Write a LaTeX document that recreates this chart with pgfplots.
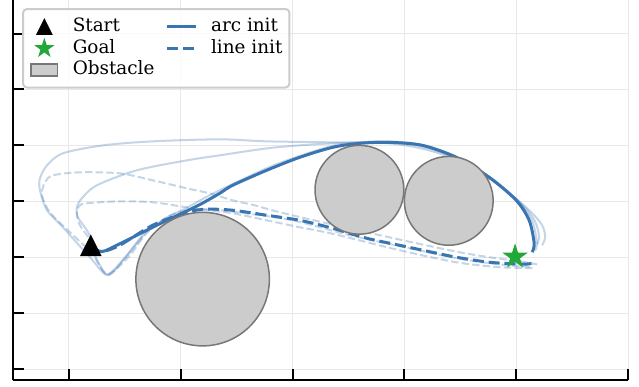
\documentclass[border=0pt]{standalone}
\usepackage{fontspec}
\setmainfont{DejaVu Serif}
\usepackage{pgfplots}
\pgfplotsset{compat=1.18}
\definecolor{darkblue}{RGB}{58,117,178}
\definecolor{goalgreen}{RGB}{34,168,56}
\definecolor{obsfill}{RGB}{204,204,204}
\definecolor{obsedge}{RGB}{119,119,119}
\definecolor{gridc}{RGB}{232,232,232}
\definecolor{legedge}{RGB}{204,204,204}

\pgfdeclareplotmark{mtri}{%
 \pgfpathmoveto{\pgfpoint{0pt}{\pgfplotmarksize}}%
 \pgfpathlineto{\pgfpoint{-\pgfplotmarksize}{-\pgfplotmarksize}}%
 \pgfpathlineto{\pgfpoint{\pgfplotmarksize}{-\pgfplotmarksize}}%
 \pgfpathclose\pgfusepathqfill}
\pgfdeclareplotmark{fstar}{%
 \pgfpathmoveto{\pgfpointpolar{90}{\pgfplotmarksize}}%
 \pgfpathlineto{\pgfpointpolar{126}{0.382\pgfplotmarksize}}%
 \pgfpathlineto{\pgfpointpolar{162}{\pgfplotmarksize}}%
 \pgfpathlineto{\pgfpointpolar{198}{0.382\pgfplotmarksize}}%
 \pgfpathlineto{\pgfpointpolar{234}{\pgfplotmarksize}}%
 \pgfpathlineto{\pgfpointpolar{270}{0.382\pgfplotmarksize}}%
 \pgfpathlineto{\pgfpointpolar{306}{\pgfplotmarksize}}%
 \pgfpathlineto{\pgfpointpolar{342}{0.382\pgfplotmarksize}}%
 \pgfpathlineto{\pgfpointpolar{18}{\pgfplotmarksize}}%
 \pgfpathlineto{\pgfpointpolar{54}{0.382\pgfplotmarksize}}%
 \pgfpathclose\pgfusepathqfillstroke}

\newcommand{\legbox}{\pgfpathrectangle{\pgfpoint{0pt}{-4.35pt}}{\pgfpoint{14.5pt}{8.7pt}}\pgfusepath{discard}}

\pgfplotsset{
 lightsolid/.style={darkblue, opacity=0.3, line width=1pt, smooth, no markers, forget plot},
 lightdash/.style={darkblue, opacity=0.3, line width=1pt, smooth, no markers, forget plot, dash pattern=on 3.7pt off 1.6pt},
 markimg/.style={legend image code/.code={\legbox
   \draw[sharp corners,fill opacity=1,draw opacity=1,##1] plot coordinates {(7.1pt,0pt)};}},
 lineimg/.style={legend image code/.code={\legbox
   \draw[sharp corners,draw opacity=1,##1] (0pt,0pt) -- (14.5pt,0pt);}},
}

\begin{document}
\begin{tikzpicture}
\begin{axis}[
 name=ax,
 scale only axis,
 width=307.5pt, height=190.1pt,
 xmin=-0.5, xmax=5.0, ymin=-0.1, ymax=3.3,
 axis x line*=bottom, axis y line*=left,
 axis line style={-, black, line width=1.2pt},
 xtick={0,1,2,3,4,5}, ytick={0,0.5,1,1.5,2,2.5,3},
 xticklabels={}, yticklabels={},
 tick align=inside,
 major tick length=5.5pt,
 tick style={black, line width=1pt},
 grid=major,
 major grid style={gridc, line width=0.5pt},
 clip=false,
 legend columns=2,
 legend cell align=left,
 legend style={at={(rel axis cs:0,1)}, anchor=north west, xshift=4.5pt, yshift=-4pt,
   draw=legedge, line width=1pt, rounded corners=2pt,
   fill=white, fill opacity=0.8, text opacity=1,
   inner xsep=3.5pt, inner ysep=4.4pt, row sep=2.1pt,
   nodes={inner sep=0pt, text height=6.8pt, text depth=1.9pt},
   font=\fontsize{9.2}{10}\selectfont,
   /tikz/every odd column/.style={column sep=6.8pt},
   /tikz/every even column/.style={column sep=5.5pt}},
]

% obstacles: x y radius
\addplot[scatter, only marks, mark=*, forget plot,
 scatter/use mapped color={draw=obsedge, fill=obsfill},
 mark options={line width=0.75pt},
 visualization depends on={55.909*\thisrow{r} \as \rad},
 scatter/@pre marker code/.append style={/tikz/mark size=\rad pt}]
table {
x y r
1.196 0.804 0.597
2.598 1.603 0.397
3.397 1.504 0.397
};

% light iterates (solid)
\addplot[lightsolid] coordinates {
(0.661,1.188) (0.5,0.991) (0.348,0.839) (0.1875,1.0) (-0.054,1.268) (-0.196,1.420)
(-0.259,1.598) (-0.259,1.705) (-0.196,1.821) (-0.054,1.929) (0.304,2.0) (0.75,2.036)
(1.348,2.054) (1.768,2.036) (2.357,2.027) (2.866,2.018) (3.223,1.955) (3.536,1.839)
(3.848,1.643) (4.116,1.420) (4.232,1.286) (4.259,1.179) (4.232,1.107)};
\addplot[lightsolid] coordinates {
(0.232,1.107) (0.161,1.241) (0.080,1.357) (0.071,1.446) (0.116,1.527) (0.25,1.643)
(0.607,1.777) (1.054,1.866) (1.348,1.911) (1.768,1.973) (2.063,2.0) (2.357,2.018)
(2.866,2.030) (3.179,1.985) (3.491,1.872) (3.804,1.685) (4.054,1.470) (4.170,1.318)
(4.205,1.179) (4.188,1.116)};
\addplot[lightsolid] coordinates {
(0.2,1.08) (0.277,0.929) (0.348,0.845) (0.5,0.995) (0.661,1.195) (0.85,1.34)
(1.05,1.44) (1.3,1.575) (1.768,1.795) (2.063,1.905) (2.357,1.995) (2.6,2.028)
(2.866,2.035) (3.161,2.005) (3.464,1.9) (3.76,1.72) (4.0,1.515) (4.14,1.33)
(4.185,1.13) (4.17,1.06)};

% light iterates (dashed)
\addplot[lightdash] coordinates {
(0.232,1.018) (0.009,1.223) (-0.170,1.402) (-0.241,1.554) (-0.214,1.670) (-0.143,1.732)
(0.098,1.759) (0.455,1.75) (0.75,1.6875) (1.054,1.616) (1.259,1.571) (1.464,1.509)
(1.661,1.464) (1.884,1.402) (2.357,1.292) (2.955,1.158) (3.464,1.05) (3.759,1.0)
(4.054,0.96) (4.188,0.935)};
\addplot[lightdash] coordinates {
(0.232,1.107) (0.098,1.286) (0.071,1.402) (0.098,1.464) (0.161,1.482) (0.455,1.5)
(0.75,1.491) (1.054,1.446) (1.232,1.420) (1.464,1.393) (1.768,1.330) (2.063,1.268)
(2.357,1.210) (2.955,1.063) (3.464,0.955) (3.848,0.911) (4.161,0.902)};
\addplot[lightdash] coordinates {
(0.2,1.08) (0.27,0.93) (0.36,0.85) (0.54,1.01) (0.70,1.22) (0.9,1.37) (1.1,1.425)
(1.3,1.425) (1.6,1.39) (2.0,1.33) (2.5,1.2) (3.0,1.09) (3.5,0.985) (3.9,0.93) (4.15,0.915)};

% final trajectories
\addplot[darkblue, line width=1.5pt, smooth, no markers, forget plot] coordinates {
(0.2,1.09) (0.295,1.05) (0.455,1.12) (0.75,1.268) (0.991,1.384) (1.170,1.47)
(1.348,1.571) (1.464,1.643) (1.768,1.777) (2.063,1.893) (2.357,1.982) (2.598,2.018)
(2.866,2.027) (3.161,2.0) (3.464,1.893) (3.759,1.714) (4.0,1.509) (4.116,1.330)
(4.161,1.125) (4.143,1.045)};
\addplot[darkblue, line width=1.5pt, smooth, no markers, forget plot, dash pattern=on 5.55pt off 2.4pt] coordinates {
(0.2,1.09) (0.295,1.05) (0.455,1.107) (0.75,1.286) (1.054,1.402) (1.232,1.429)
(1.464,1.420) (1.768,1.375) (2.063,1.330) (2.357,1.259) (2.661,1.170) (2.955,1.107)
(3.161,1.063) (3.464,1.0) (3.759,0.955) (4.054,0.9375) (4.143,0.946)};

% start and goal
\addplot[only marks, mark=mtri, mark size=5.4pt, black, forget plot] coordinates {(0.196,1.107)};
\addplot[only marks, mark=fstar, mark size=5.9pt, goalgreen, mark options={line width=0.5pt}, forget plot] coordinates {(3.99,1.004)};

% legend (row-wise for two columns)
\addlegendimage{markimg, only marks, mark=mtri, mark size=4.2pt, black}
\addlegendentry{Start}
\addlegendimage{lineimg, darkblue, line width=1.5pt}
\addlegendentry{arc init}
\addlegendimage{markimg, only marks, mark=fstar, mark size=4.5pt, goalgreen, mark options={line width=0.5pt}}
\addlegendentry{Goal}
\addlegendimage{lineimg, darkblue, line width=1.5pt, dash pattern=on 5.55pt off 2.4pt}
\addlegendentry{line init}
\addlegendimage{legend image code/.code={\legbox
  \draw[draw=obsedge, fill=obsfill, fill opacity=1, draw opacity=1, line width=0.75pt, sharp corners] (0.3pt,-3.1pt) rectangle (13.6pt,3.1pt);}}
\addlegendentry{Obstacle}
\end{axis}
\pgfresetboundingbox
\path ([xshift=-6.5pt,yshift=-3pt]ax.south west) rectangle ([xshift=5.5pt]ax.north east);
\end{tikzpicture}
\end{document}
